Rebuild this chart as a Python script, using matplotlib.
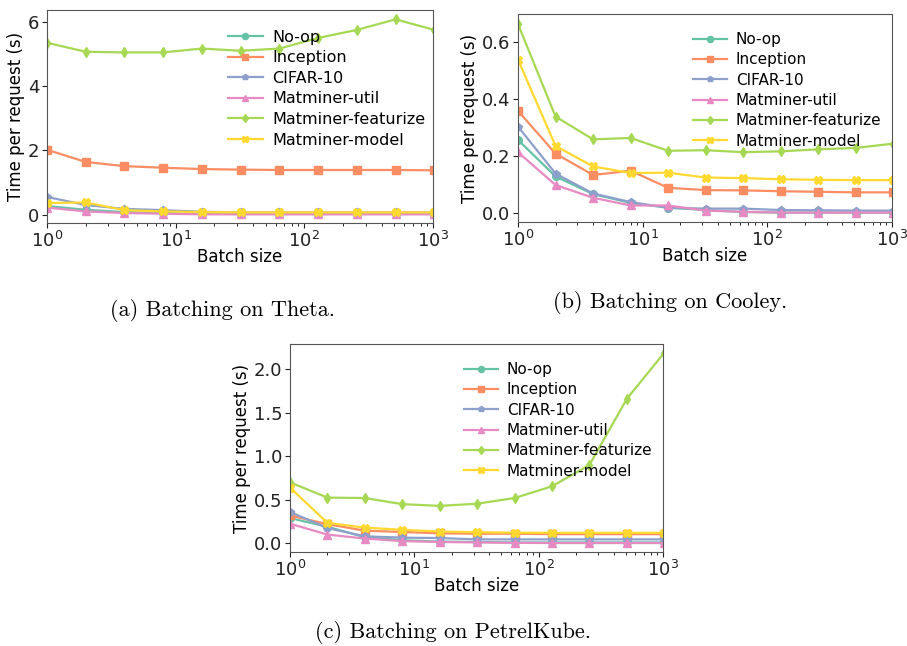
import matplotlib
matplotlib.use("Agg")
import matplotlib.pyplot as plt

batch_sizes = [1, 2, 4, 8, 16, 32, 64, 128, 256, 512, 1024]
series_names = ["No-op", "Inception", "CIFAR-10", "Matminer-util",
                "Matminer-featurize", "Matminer-model"]
colors = ["#66c2a5", "#fc8d62", "#8da0cb", "#e78ac3", "#a6d854", "#ffd92f"]
markers = ["o", "s", "p", "^", "d", "X"]

# Theta
theta_noop = [0.27, 0.15, 0.08, 0.05, 0.03, 0.02, 0.02, 0.02, 0.02, 0.02, 0.02]
theta_inception = [2.02, 1.64, 1.51, 1.46, 1.42, 1.40, 1.39, 1.39, 1.39, 1.39, 1.38]
theta_cifar = [0.55, 0.30, 0.18, 0.14, 0.09, 0.07, 0.07, 0.07, 0.07, 0.07, 0.07]
theta_util = [0.22, 0.10, 0.05, 0.03, 0.01, 0.01, 0.01, 0.01, 0.01, 0.01, 0.01]
theta_featurize = [5.35, 5.07, 5.05, 5.05, 5.17, 5.10, 5.17, 5.50, 5.75, 6.08, 5.75]
theta_model = [0.36, 0.38, 0.14, 0.10, 0.08, 0.07, 0.07, 0.07, 0.07, 0.07, 0.07]

# Cooley
cooley_noop = [0.258, 0.13, 0.068, 0.037, 0.02, 0.012, 0.005, 0.003, 0.003, 0.003, 0.003]
cooley_inception = [0.36, 0.21, 0.135, 0.15, 0.09, 0.082, 0.081, 0.078, 0.076, 0.074, 0.074]
cooley_cifar = [0.305, 0.14, 0.07, 0.04, 0.02, 0.017, 0.017, 0.012, 0.011, 0.01, 0.01]
cooley_util = [0.215, 0.10, 0.055, 0.028, 0.028, 0.01, 0.006, 0.003, 0.003, 0.003, 0.003]
cooley_featurize = [0.665, 0.34, 0.26, 0.265, 0.22, 0.222, 0.215, 0.218, 0.225, 0.23, 0.245]
cooley_model = [0.54, 0.237, 0.165, 0.142, 0.143, 0.126, 0.124, 0.12, 0.118, 0.117, 0.117]

# PetrelKube
petrel_noop = [0.29, 0.19, 0.07, 0.035, 0.02, 0.015, 0.01, 0.01, 0.01, 0.01, 0.01]
petrel_inception = [0.32, 0.22, 0.145, 0.13, 0.115, 0.11, 0.11, 0.105, 0.105, 0.105, 0.105]
petrel_cifar = [0.36, 0.175, 0.08, 0.065, 0.06, 0.045, 0.045, 0.045, 0.045, 0.045, 0.045]
petrel_util = [0.225, 0.10, 0.055, 0.025, 0.015, 0.01, 0.005, 0.003, 0.003, 0.003, 0.003]
petrel_featurize = [0.70, 0.525, 0.52, 0.45, 0.43, 0.455, 0.52, 0.655, 0.90, 1.66, 2.19]
petrel_model = [0.64, 0.235, 0.18, 0.155, 0.135, 0.127, 0.122, 0.12, 0.12, 0.12, 0.12]

W, H = 907, 646
fig = plt.figure(figsize=(W / 100, H / 100), dpi=100)


def axes_px(left, top, right, bottom):
    return fig.add_axes([left / W, 1 - bottom / H, (right - left) / W, (bottom - top) / H])


def draw(ax, data, ylim, yticks, leg_anchor, leg_size):
    for vals, name, c, m in zip(data, series_names, colors, markers):
        ax.plot(batch_sizes, vals, color=c, marker=m, markersize=5.5, lw=1.6, label=name)
    ax.set_xscale("log")
    ax.set_xlim(1, 1000)
    ax.set_ylim(*ylim)
    ax.set_yticks(yticks)
    ax.set_xlabel("Batch size", fontsize=12, labelpad=-2)
    ax.set_ylabel("Time per request (s)", fontsize=12, labelpad=2)
    ax.tick_params(labelsize=13, colors="#222222", direction="out", pad=2)
    for s in ax.spines.values():
        s.set_color("#555555")
    ax.legend(loc="upper right", bbox_to_anchor=leg_anchor, frameon=False,
              fontsize=leg_size, handlelength=2.2, handletextpad=0.6,
              labelspacing=0.35, borderaxespad=0.3, markerscale=0.8)


ax1 = axes_px(47, 10, 433, 223)
draw(ax1, [theta_noop, theta_inception, theta_cifar, theta_util, theta_featurize, theta_model],
     (-0.26, 6.37), [0, 2, 4, 6], (1.01, 0.96), 11.5)

ax2 = axes_px(518, 14, 892, 222)
draw(ax2, [cooley_noop, cooley_inception, cooley_cifar, cooley_util, cooley_featurize, cooley_model],
     (-0.03, 0.70), [0.0, 0.2, 0.4, 0.6], (1.0, 0.965), 11)
ax2.set_yticklabels(["0.0", "0.2", "0.4", "0.6"])

ax3 = axes_px(290, 344, 663, 552)
draw(ax3, [petrel_noop, petrel_inception, petrel_cifar, petrel_util, petrel_featurize, petrel_model],
     (-0.10, 2.29), [0.0, 0.5, 1.0, 1.5, 2.0], (1.0, 0.965), 11)
ax3.set_yticklabels(["0.0", "0.5", "1.0", "1.5", "2.0"])

cap = dict(family="cmr10", fontsize=16, ha="center", va="center")
fig.text(223 / W, 1 - 310 / H, "(a) Batching on Theta.", **cap)
fig.text(670 / W, 1 - 302 / H, "(b) Batching on Cooley.", **cap)
fig.text(453 / W, 1 - 633 / H, "(c) Batching on PetrelKube.", **cap)

fig.savefig("out.png", dpi=100)
